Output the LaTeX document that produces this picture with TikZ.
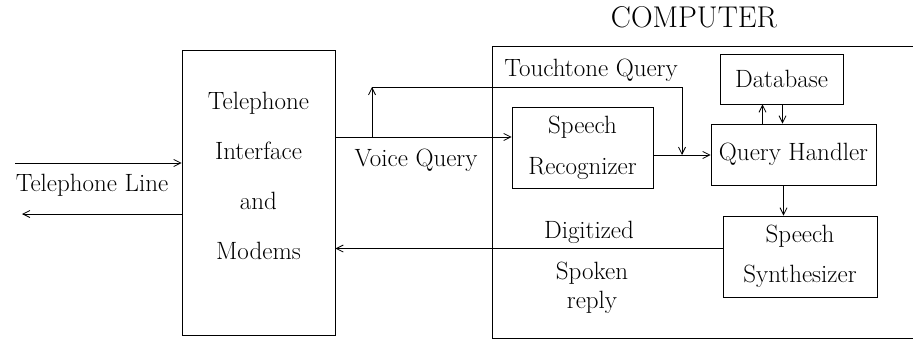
\documentclass[tikz,border=0pt]{standalone}
\usetikzlibrary{arrows.meta}
\begin{document}
\begin{tikzpicture}[
    x=1pt, y=-1pt,
    every node/.style={font=\fontsize{25}{29}\selectfont},
    block/.style={draw, rectangle, align=center, inner sep=0pt, line width=0.9pt},
    arrow/.style={-{Straight Barb[length=7pt,width=7pt]}, line width=0.8pt}
]
    \useasboundingbox (0,0) rectangle (913,343);

    % Telephone side
    \node[block, minimum width=153, minimum height=285, text depth=33pt] (tif) at (258.5,192.5)
        {Telephone\\[21pt]Interface\\[21pt]and\\[21pt]Modems};
    \coordinate (linein) at (15,163);
    \coordinate (lineout) at (22,214);
    \node (telline) at (92,185) {Telephone Line};

    % Computer frame (open to the right)
    \draw[line width=0.9pt] (913,46) -- (492,46) -- (492,338) -- (913,338);
    \node[font=\fontsize{30}{34}\selectfont] (comp) at (694,17) {COMPUTER};

    % Computer modules
    \node[block, minimum width=141, minimum height=81] (rec) at (582.5,147.5) {Speech\\[12pt]Recognizer};
    \node[block, minimum width=165, minimum height=61] (qh) at (793.5,154.5) {Query Handler};
    \node[block, minimum width=123, minimum height=50] (db) at (781.5,79) {Database};
    \node[block, minimum width=154, minimum height=81] (syn) at (800,256.5) {Speech\\[11pt]Synthesizer};

    % Branch points
    \coordinate (split) at (372,137);
    \coordinate (ttup) at (372,87);
    \coordinate (ttright) at (682,87);
    \coordinate (join) at (682,155);

    % Labels
    \node (voice) at (416,160) {Voice Query};
    \node (touch) at (591,70) {Touchtone Query};
    \node (digit) at (589,232) {Digitized};
    \node[align=center] (spoken) at (592,288) {Spoken\\reply};

    % Connections
    \draw[arrow] (linein) -- (tif.west |- linein);
    \draw[arrow] (tif.west |- lineout) -- (lineout);
    \draw[arrow] (tif.east |- split) -- (rec.west |- split);
    \draw[arrow] (split) -- (ttup);
    \draw[arrow] (ttup) -- (ttright) -- (join);
    \draw[arrow] (rec.east |- join) -- (qh.west |- join);
    \draw[arrow] ([xshift=-31]qh.north) -- ([xshift=-31]qh.north |- db.south);
    \draw[arrow] ([xshift=-11]db.south -| qh.north) -- ([xshift=-11]qh.north);
    \draw[arrow] ([xshift=-10]qh.south) -- ([xshift=-10]qh.south |- syn.north);
    \draw[arrow] ([yshift=8]syn.west) -- ([yshift=8]syn.west -| tif.east);
\end{tikzpicture}
\end{document}
